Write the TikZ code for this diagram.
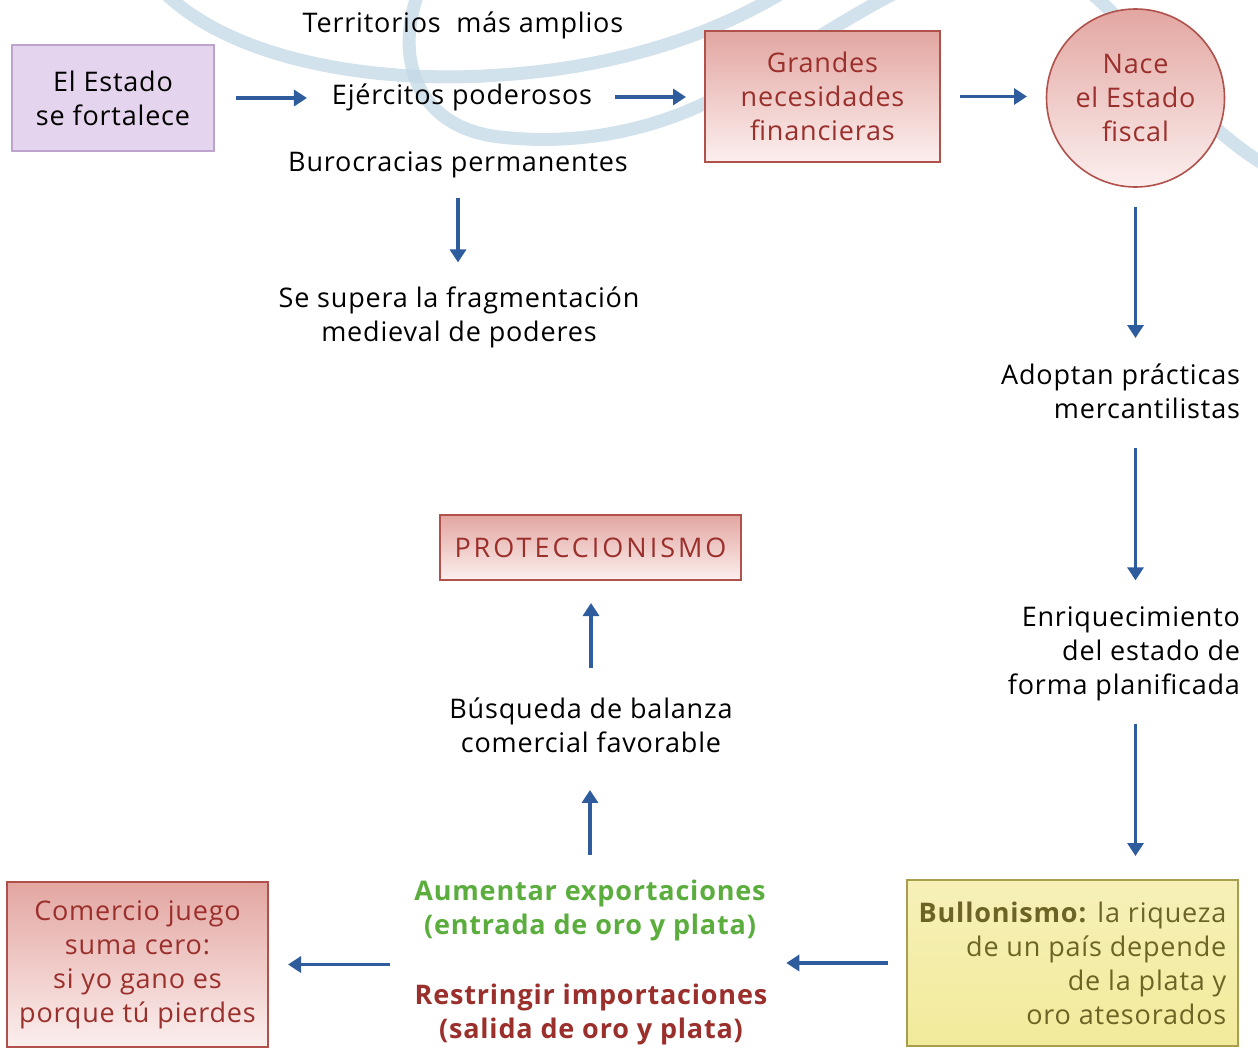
\documentclass[tikz,border=0pt]{standalone}
\usepackage{fontspec}
\setmainfont{Open Sans}[LetterSpace=3]
\usetikzlibrary{arrows.meta,shapes.geometric,calc}
\definecolor{arrblue}{HTML}{2E5C9C}
\definecolor{dred}{HTML}{9A2F2C}
\definecolor{bred}{HTML}{B0514B}
\definecolor{pinktop}{HTML}{E3A6A1}
\definecolor{pinkbot}{HTML}{FBEFEE}
\definecolor{lavfill}{HTML}{E5D4ED}
\definecolor{lavedge}{HTML}{BDA4CF}
\definecolor{yellfill}{HTML}{F2EA9A}
\definecolor{yelledge}{HTML}{A79E4E}
\definecolor{olive}{HTML}{6C6424}
\definecolor{grn}{HTML}{5BAE3E}
\definecolor{swoosh}{HTML}{C3D9E6}
\begin{document}
\begin{tikzpicture}[x=1pt,y=-1pt,
  every node/.style={font=\fontsize{27}{34}\selectfont, align=center, inner sep=0pt, outer sep=0pt},
  pinkbox/.style={draw=bred, line width=1.6pt, top color=pinktop, bottom color=pinkbot, text=dred},
  pinkcirc/.style={circle, draw=bred, line width=1.6pt, top color=pinktop, bottom color=pinkbot, text=dred, minimum size=178pt},
  lavbox/.style={draw=lavedge, line width=1.6pt, fill=lavfill, text=black},
  yellbox/.style={draw=yelledge, line width=1.6pt, top color=yellfill!70!white, bottom color=yellfill, text=olive, align=right},
  arr/.style={draw=arrblue, line width=3.2pt, -{Triangle[length=13pt,width=16pt]}},
  band/.style={draw=swoosh, line width=13pt, line cap=round, opacity=0.75}]
\useasboundingbox (0,0) rectangle (1258,1049);
\fill[white] (0,0) rectangle (1258,1049);
% decorative swooshes
\draw[band] (160,-12) .. controls (230,62) and (380,84) .. (500,75) .. controls (610,68) and (710,38) .. (790,-12);
\draw[band] (420,-12) .. controls (392,60) and (418,128) .. (500,137) .. controls (590,147) and (670,125) .. (730,90) .. controls (800,50) and (850,15) .. (905,-12);
\draw[band] (1085,-12) .. controls (1150,40) and (1180,115) .. (1270,168);
% nodes
\node[lavbox, minimum width=202pt, minimum height=106pt] (estado) at (113,98) {El Estado\\se fortalece};
\node (terr) at (463,25) {Territorios\ \ más amplios};
\node (ejer) at (462,97) {Ejércitos poderosos};
\node (buro) at (458,165) {Burocracias permanentes};
\node (supera) at (459,317) {Se supera la fragmentación\\medieval de poderes};
\node[pinkbox, minimum width=235pt, minimum height=131pt] (grandes) at (822.5,96.5) {Grandes\\necesidades\\financieras};
\node[pinkcirc] (nace) at (1135.5,98) {Nace\\el Estado\\fiscal};
\node[anchor=east, align=right] (adoptan) at (1240,391) {Adoptan prácticas\\mercantilistas};
\node[anchor=east, align=right] (enriq) at (1240,654) {Enriquecimiento\\del estado de\\forma planificada};
\node[yellbox, minimum width=331pt, minimum height=166pt] (bullon) at (1072.5,963) {\textbf{Bullonismo:} la riqueza\\de un país depende\\de la plata y\\oro atesorados};
\node[text=grn, font=\fontsize{27}{34}\selectfont\bfseries] (aument) at (590,910) {Aumentar exportaciones\\(entrada de oro y plata)};
\node[text=dred, font=\fontsize{27}{34}\selectfont\bfseries] (restr) at (591,1014) {Restringir importaciones\\(salida de oro y plata)};
\node[pinkbox, minimum width=261pt, minimum height=165pt] (comercio) at (137.5,964.5) {Comercio juego\\suma cero:\\si yo gano es\\porque tú pierdes};
\node (busq) at (591,725) {Búsqueda de balanza\\comercial favorable};
\node[pinkbox, minimum width=301pt, minimum height=65pt, font=\fontsize{27}{34}\selectfont\addfontfeature{LetterSpace=11}] (prot) at (590.5,547.5) {PROTECCIONISMO};
% connectors
\draw[arr, shorten <=22pt, shorten >=25pt] (estado.east) -- (estado.east -| ejer.west);
\draw[arr, shorten <=23pt, shorten >=19pt] (ejer.east) -- (ejer.east -| grandes.west);
\draw[arr, shorten <=20pt, shorten >=19.5pt] (grandes.east) -- (grandes.east -| nace.west);
\draw[arr, shorten <=20pt, shorten >=24pt] (buro.south) -- (buro.south |- supera.north);
\draw[arr, shorten <=20pt, shorten >=25.5pt] (nace.south) -- (nace.south |- adoptan.north);
\draw[arr, shorten <=29.5pt, shorten >=26.5pt] (nace.south |- adoptan.south) -- (nace.south |- enriq.north);
\draw[arr, shorten <=22.5pt, shorten >=24pt] (nace.south |- enriq.south) -- (nace.south |- bullon.north);
\draw[arr, shorten <=19pt, shorten >=19pt] (bullon.west) -- (bullon.west -| restr.east);
\draw[arr, shorten <=25pt, shorten >=20pt] (restr.west |- comercio.east) -- (comercio.east);
\draw[arr, shorten <=25pt, shorten >=37.5pt] (aument.north) -- (aument.north |- busq.south);
\draw[arr, shorten <=29.5pt, shorten >=23pt] (busq.north) -- (busq.north |- prot.south);
\end{tikzpicture}
\end{document}
